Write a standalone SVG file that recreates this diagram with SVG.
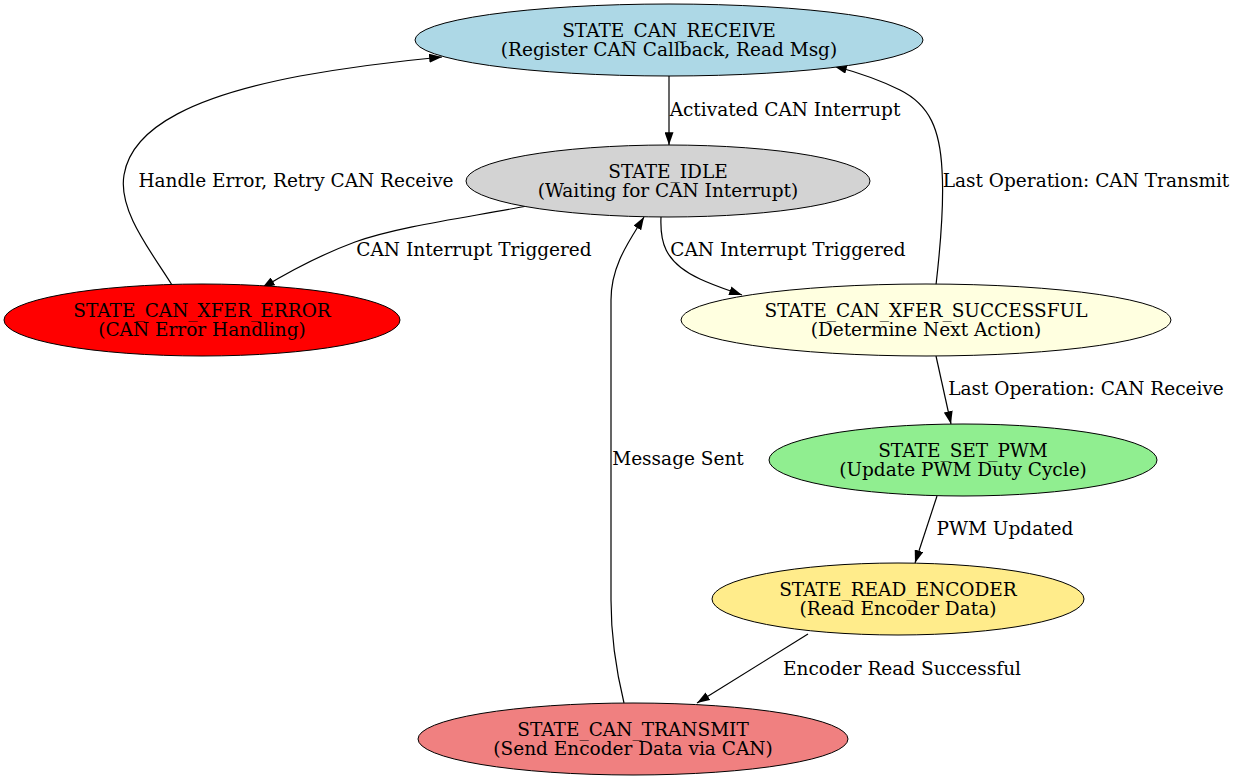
<svg xmlns="http://www.w3.org/2000/svg" width="1237" height="781" viewBox="0 0 1237 781">
<style>
text{font-family:"DejaVu Serif","Liberation Serif",serif;font-size:18.5px;fill:#000;text-anchor:middle}
.node ellipse{stroke:#000;stroke-width:1}
.edges path{fill:none;stroke:#000;stroke-width:1.2;marker-end:url(#ah)}
</style>
<defs>
<marker id="ah" viewBox="0 0 10 7" refX="10" refY="3.5" markerWidth="13" markerHeight="9" markerUnits="userSpaceOnUse" orient="auto">
<path d="M0,0 L10,3.5 L0,7 z" fill="#000"/>
</marker>
</defs>
<rect width="1237" height="781" fill="#fff"/>
<g class="edges" id="edges">
<path d="M669,76 L669,145"/>
<path d="M527,206 C470,217 400,226 355,242 C320,255 290,271 262,288"/>
<path d="M172,285 C150,250 118,210 124,175 C132,125 200,95 300,76 C350,67 400,61 442,57"/>
<path d="M661,217 C660,240 663,262 700,279 C715,286 728,290 742,295"/>
<path d="M936,285 C940,250 944,200 942,170 C940,130 930,105 900,90 C880,80 860,73 834,66"/>
<path d="M936,356 L951,424"/>
<path d="M937,496 L915,563"/>
<path d="M808,634 L697,703"/>
<path d="M624,703 C616,670 611,640 611,600 L611,300 C611,265 630,240 644,217"/>
<text x="785" y="116">Activated CAN Interrupt</text>
<text x="474" y="256">CAN Interrupt Triggered</text>
<text x="296" y="187">Handle Error, Retry CAN Receive</text>
<text x="788" y="256">CAN Interrupt Triggered</text>
<text x="1086" y="187">Last Operation: CAN Transmit</text>
<text x="1086" y="395">Last Operation: CAN Receive</text>
<text x="1005" y="535">PWM Updated</text>
<text x="678" y="465">Message Sent</text>
<text x="902" y="675">Encoder Read Successful</text>
</g>
<g class="node" id="STATE_CAN_RECEIVE">
<ellipse cx="669" cy="40" rx="254" ry="36" fill="#ADD8E6"/>
<text x="669" y="37">STATE_CAN_RECEIVE</text>
<text x="669" y="56">(Register CAN Callback, Read Msg)</text>
</g>
<g class="node" id="STATE_IDLE">
<ellipse cx="668" cy="181" rx="202" ry="36" fill="#D3D3D3"/>
<text x="668" y="178">STATE_IDLE</text>
<text x="668" y="197">(Waiting for CAN Interrupt)</text>
</g>
<g class="node" id="STATE_CAN_XFER_ERROR">
<ellipse cx="202" cy="320" rx="198" ry="36" fill="#FF0000"/>
<text x="202" y="317">STATE_CAN_XFER_ERROR</text>
<text x="202" y="336">(CAN Error Handling)</text>
</g>
<g class="node" id="STATE_CAN_XFER_SUCCESSFUL">
<ellipse cx="926" cy="320" rx="245" ry="36" fill="#FFFFE0"/>
<text x="926" y="317">STATE_CAN_XFER_SUCCESSFUL</text>
<text x="926" y="336">(Determine Next Action)</text>
</g>
<g class="node" id="STATE_SET_PWM">
<ellipse cx="963" cy="460" rx="194" ry="36" fill="#90EE90"/>
<text x="963" y="457">STATE_SET_PWM</text>
<text x="963" y="476">(Update PWM Duty Cycle)</text>
</g>
<g class="node" id="STATE_READ_ENCODER">
<ellipse cx="898" cy="599" rx="186" ry="36" fill="#FFEC8B"/>
<text x="898" y="596">STATE_READ_ENCODER</text>
<text x="898" y="615">(Read Encoder Data)</text>
</g>
<g class="node" id="STATE_CAN_TRANSMIT">
<ellipse cx="633" cy="739" rx="215" ry="36" fill="#F08080"/>
<text x="633" y="736">STATE_CAN_TRANSMIT</text>
<text x="633" y="755">(Send Encoder Data via CAN)</text>
</g>
</svg>
